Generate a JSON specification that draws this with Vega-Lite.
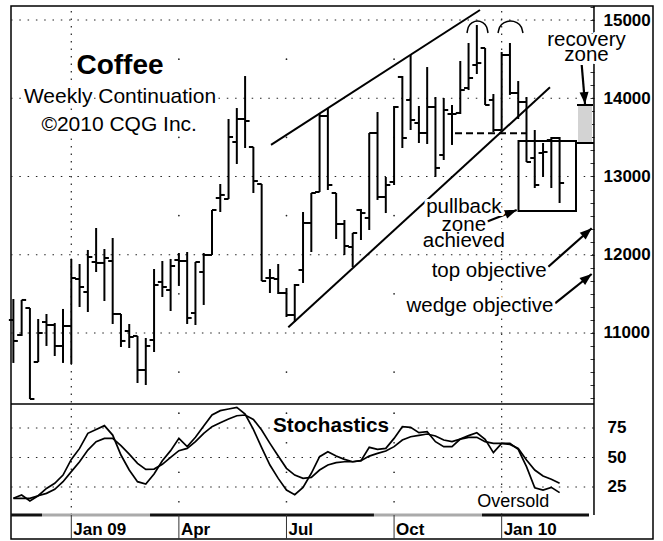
{
"$schema": "https://vega.github.io/schema/vega-lite/v6.json",
"width": 642, "height": 533,
"autosize": {"type": "none"},
"padding": {"left": 11, "top": 6, "right": 10, "bottom": 2},
"background": "white",
"config": {"view": {"stroke": "black", "strokeWidth": 1.5}, "font": "Liberation Sans"},
"datasets": {
"bars": [
{"t":"2008-11-14","o":11166,"h":11434,"l":10617,"c":10898,"k":15.4,"dv":15.4},
{"t":"2008-11-21","o":10974,"h":11422,"l":10962,"c":11422,"k":18.2,"dv":15.4},
{"t":"2008-11-28","o":11319,"h":11319,"l":10156,"c":10156,"k":13.1,"dv":15.4},
{"t":"2008-12-05","o":10629,"h":11179,"l":10629,"c":11000,"k":17.6,"dv":17.6},
{"t":"2008-12-12","o":11140,"h":11243,"l":10834,"c":11102,"k":23.8,"dv":19.6},
{"t":"2008-12-19","o":11102,"h":11128,"l":10706,"c":10834,"k":28.1,"dv":23.0},
{"t":"2008-12-26","o":10834,"h":11307,"l":10617,"c":11089,"k":35.1,"dv":29.5},
{"t":"2009-01-02","o":11089,"h":11946,"l":10604,"c":11703,"k":48.4,"dv":38.0},
{"t":"2009-01-09","o":11690,"h":11882,"l":11332,"c":11588,"k":57.7,"dv":46.4},
{"t":"2009-01-16","o":11524,"h":12061,"l":11268,"c":11971,"k":70.5,"dv":56.3},
{"t":"2009-01-23","o":11907,"h":12342,"l":11779,"c":11895,"k":73.8,"dv":63.4},
{"t":"2009-01-30","o":11895,"h":12073,"l":11409,"c":11958,"k":77.0,"dv":66.2},
{"t":"2009-02-06","o":11920,"h":12214,"l":11115,"c":11243,"k":69.0,"dv":66.2},
{"t":"2009-02-13","o":11243,"h":11243,"l":10821,"c":10898,"k":52.1,"dv":60.0},
{"t":"2009-02-20","o":11025,"h":11115,"l":10808,"c":10949,"k":39.4,"dv":52.9},
{"t":"2009-02-27","o":10962,"h":10962,"l":10361,"c":10527,"k":29.5,"dv":45.0},
{"t":"2009-03-06","o":10527,"h":10936,"l":10335,"c":10834,"k":27.5,"dv":39.9},
{"t":"2009-03-13","o":10910,"h":11818,"l":10757,"c":11613,"k":36.0,"dv":40.2},
{"t":"2009-03-20","o":11652,"h":11920,"l":11460,"c":11588,"k":47.3,"dv":44.2},
{"t":"2009-03-27","o":11549,"h":11946,"l":11281,"c":11856,"k":55.8,"dv":50.1},
{"t":"2009-04-03","o":11933,"h":12022,"l":11601,"c":11920,"k":66.2,"dv":55.8},
{"t":"2009-04-10","o":11920,"h":12035,"l":11115,"c":11192,"k":59.2,"dv":57.7},
{"t":"2009-04-17","o":11255,"h":11907,"l":11102,"c":11907,"k":67.1,"dv":63.4},
{"t":"2009-04-24","o":11779,"h":12022,"l":11358,"c":11997,"k":76.7,"dv":70.5},
{"t":"2009-05-01","o":11997,"h":12572,"l":11997,"c":12572,"k":86.0,"dv":76.1},
{"t":"2009-05-08","o":12725,"h":12904,"l":12546,"c":12764,"k":89.7,"dv":79.5},
{"t":"2009-05-15","o":12712,"h":13735,"l":12712,"c":13505,"k":91.1,"dv":82.6},
{"t":"2009-05-22","o":13441,"h":13875,"l":13160,"c":13735,"k":92.5,"dv":85.4},
{"t":"2009-05-29","o":13735,"h":14284,"l":13364,"c":13709,"k":86.8,"dv":86.0},
{"t":"2009-06-05","o":13377,"h":13377,"l":12789,"c":12942,"k":73.8,"dv":82.3},
{"t":"2009-06-12","o":12904,"h":12904,"l":11664,"c":11664,"k":58.3,"dv":73.3},
{"t":"2009-06-19","o":11703,"h":11818,"l":11511,"c":11703,"k":43.6,"dv":62.0},
{"t":"2009-06-26","o":11690,"h":11882,"l":11498,"c":11511,"k":32.3,"dv":51.2},
{"t":"2009-07-03","o":11511,"h":11575,"l":11204,"c":11230,"k":22.4,"dv":40.8},
{"t":"2009-07-10","o":11230,"h":11626,"l":11140,"c":11613,"k":18.5,"dv":35.1},
{"t":"2009-07-17","o":11805,"h":12546,"l":11639,"c":12406,"k":24.7,"dv":32.3},
{"t":"2009-07-24","o":12406,"h":12789,"l":12035,"c":12789,"k":36.6,"dv":33.2},
{"t":"2009-07-31","o":12802,"h":13812,"l":12802,"c":13773,"k":50.7,"dv":39.4},
{"t":"2009-08-07","o":13773,"h":13875,"l":12827,"c":12891,"k":54.9,"dv":43.6},
{"t":"2009-08-14","o":12789,"h":12789,"l":12201,"c":12393,"k":51.2,"dv":45.6},
{"t":"2009-08-21","o":12393,"h":12444,"l":11997,"c":12112,"k":48.4,"dv":46.4},
{"t":"2009-08-28","o":12099,"h":12278,"l":11843,"c":12278,"k":46.4,"dv":46.4},
{"t":"2009-09-04","o":12572,"h":12585,"l":12188,"c":12533,"k":47.3,"dv":47.3},
{"t":"2009-09-11","o":12470,"h":13556,"l":12316,"c":13556,"k":58.6,"dv":51.2},
{"t":"2009-09-18","o":13556,"h":13824,"l":12700,"c":12738,"k":56.9,"dv":53.5},
{"t":"2009-09-25","o":12738,"h":12994,"l":12533,"c":12891,"k":57.7,"dv":55.5},
{"t":"2009-10-02","o":12930,"h":13901,"l":12891,"c":13888,"k":66.2,"dv":59.2},
{"t":"2009-10-09","o":14272,"h":14284,"l":13364,"c":13492,"k":76.1,"dv":64.8},
{"t":"2009-10-16","o":13978,"h":14553,"l":13594,"c":13722,"k":75.5,"dv":67.6},
{"t":"2009-10-23","o":13684,"h":13901,"l":13428,"c":13556,"k":71.0,"dv":68.8},
{"t":"2009-10-30","o":13556,"h":14399,"l":13415,"c":13888,"k":71.9,"dv":69.9},
{"t":"2009-11-06","o":13888,"h":14016,"l":12994,"c":13109,"k":63.4,"dv":68.2},
{"t":"2009-11-13","o":13275,"h":14003,"l":13211,"c":13850,"k":59.2,"dv":64.8},
{"t":"2009-11-20","o":13799,"h":13914,"l":13403,"c":13799,"k":59.2,"dv":63.4},
{"t":"2009-11-27","o":13812,"h":14476,"l":13799,"c":14105,"k":65.6,"dv":65.6},
{"t":"2009-12-04","o":14131,"h":14706,"l":14105,"c":14259,"k":68.5,"dv":67.1},
{"t":"2009-12-11","o":14425,"h":14936,"l":14310,"c":14450,"k":71.0,"dv":67.1},
{"t":"2009-12-18","o":14642,"h":14642,"l":13914,"c":13914,"k":65.4,"dv":63.4},
{"t":"2009-12-25","o":13978,"h":14054,"l":13569,"c":13594,"k":54.1,"dv":62.0},
{"t":"2010-01-01","o":13594,"h":14591,"l":13594,"c":14553,"k":62.0,"dv":62.0},
{"t":"2010-01-08","o":14553,"h":14706,"l":14042,"c":14067,"k":62.0,"dv":61.1},
{"t":"2010-01-15","o":14067,"h":14220,"l":13735,"c":13952,"k":56.9,"dv":57.7},
{"t":"2010-01-22","o":13952,"h":14016,"l":13185,"c":13185,"k":42.2,"dv":47.8},
{"t":"2010-01-29","o":13236,"h":13594,"l":12853,"c":12891,"k":24.4,"dv":39.4},
{"t":"2010-02-05","o":13300,"h":13428,"l":12994,"c":13313,"k":22.4,"dv":34.3},
{"t":"2010-02-12","o":13466,"h":13505,"l":12853,"c":13492,"k":24.7,"dv":31.5},
{"t":"2010-02-19","o":13492,"h":13505,"l":12661,"c":12917,"k":20.2,"dv":28.1}
],
"quarters": [{"t":"2009-01-02","s":"Jan 09"},{"t":"2009-04-03","s":"Apr"},{"t":"2009-07-03","s":"Jul"},{"t":"2009-10-02","s":"Oct"},{"t":"2010-01-01","s":"Jan 10"}],
"jans": [{"t":"2009-01-02"},{"t":"2010-01-01"}],
"plevels": [{"v":11000},{"v":12000},{"v":13000},{"v":14000},{"v":15000}],
"slevels": [{"v":25},{"v":50},{"v":75}],
"pdots": [
{"t":"2009-04-03","v":10500},{"t":"2009-04-03","v":11500},{"t":"2009-04-03","v":12500},{"t":"2009-04-03","v":13500},{"t":"2009-04-03","v":14500},
{"t":"2009-07-03","v":10500},{"t":"2009-07-03","v":11500},{"t":"2009-07-03","v":12500},{"t":"2009-07-03","v":13500},{"t":"2009-07-03","v":14500},
{"t":"2009-10-02","v":10500},{"t":"2009-10-02","v":11500},{"t":"2009-10-02","v":12500},{"t":"2009-10-02","v":13500},{"t":"2009-10-02","v":14500}
],
"sdots": [
{"t":"2009-04-03","v":12.5},{"t":"2009-04-03","v":37.5},{"t":"2009-04-03","v":62.5},{"t":"2009-04-03","v":87.5},
{"t":"2009-07-03","v":12.5},{"t":"2009-07-03","v":37.5},{"t":"2009-07-03","v":62.5},{"t":"2009-07-03","v":87.5},
{"t":"2009-10-02","v":12.5},{"t":"2009-10-02","v":37.5},{"t":"2009-10-02","v":62.5},{"t":"2009-10-02","v":87.5}
],
"roll": [
{"s":"2008-11-12","e":"2008-12-08T05:00:00Z","k":"dark"},
{"s":"2008-12-08T05:00:00Z","e":"2009-03-09T14:00:00Z","k":"light"},
{"s":"2009-03-09T14:00:00Z","e":"2009-09-15T00:00:00Z","k":"dark"},
{"s":"2009-09-15T00:00:00Z","e":"2009-12-15T09:00:00Z","k":"light"},
{"s":"2009-12-15T09:00:00Z","e":"2010-03-15T21:00:00Z","k":"dark"}
],
"segs": [
{"x1":"2009-06-19T22:00:00Z","y1":13403,"x2":"2009-12-13T16:00:00Z","y2":15128},
{"x1":"2009-07-04T13:00:00Z","y1":11073,"x2":"2010-02-10T21:00:00Z","y2":14140},
{"x1":"2010-03-05T17:00:00Z","y1":13914,"x2":"2010-03-19T06:00:00Z","y2":13914},
{"x1":"2010-03-05T17:00:00Z","y1":13428,"x2":"2010-03-20T02:00:00Z","y2":13428}
],
"dash": [{"x1":"2009-11-22T13:00:00Z","x2":"2010-01-22T10:00:00Z","y":13552}],
"box": [{"x1":"2010-01-15T06:00:00Z","x2":"2010-03-04T21:00:00Z","y1":13454,"y2":12559}],
"rzone": [{"x1":"2010-03-06T14:00:00Z","x2":"2010-03-18T10:00:00Z","y1":13914,"y2":13428}],
"arcs": [
{"a":1,"t":"2009-12-02T16:30:00Z","p":14834},
{"a":1,"t":"2009-12-03T21:00:00Z","p":14910},
{"a":1,"t":"2009-12-07T04:00:00Z","p":14967},
{"a":1,"t":"2009-12-11T13:40:00Z","p":14987},
{"a":1,"t":"2009-12-16T01:00:00Z","p":14967},
{"a":1,"t":"2009-12-19T06:30:00Z","p":14910},
{"a":1,"t":"2009-12-20T11:00:00Z","p":14834},
{"a":2,"t":"2009-12-28T22:00:00Z","p":14834},
{"a":2,"t":"2009-12-30T08:00:00Z","p":14910},
{"a":2,"t":"2010-01-03T06:00:00Z","p":14967},
{"a":2,"t":"2010-01-08T12:00:00Z","p":14987},
{"a":2,"t":"2010-01-13T19:30:00Z","p":14967},
{"a":2,"t":"2010-01-17T15:00:00Z","p":14910},
{"a":2,"t":"2010-01-19T01:00:00Z","p":14834}
],
"arrows": [
{"n":"rec","x1":"2010-03-09T17:00:00Z","y1":14425,"x2":"2010-03-12T12:00:00Z","y2":13926},
{"n":"pull","x1":"2009-12-19T08:00:00Z","y1":12422,"x2":"2010-01-13T17:30:00Z","y2":12572},
{"n":"top","x1":"2010-02-09T11:00:00Z","y1":11847,"x2":"2010-03-18T04:00:00Z","y2":12338},
{"n":"wedge","x1":"2010-02-15T03:00:00Z","y1":11379,"x2":"2010-03-18T04:00:00Z","y2":11754}
],
"title": [{"s":"Coffee","t":"2009-02-12T05:00:00Z","p":14310}],
"sub": [
{"s":"Weekly Continuation","t":"2009-02-12T05:00:00Z","p":13935},
{"s":"©2010 CQG Inc.","t":"2009-02-11T12:00:00Z","p":13581}
],
"notes": [
{"s":"recovery","t":"2010-03-13T18:00:00Z","p":14674},
{"s":"zone","t":"2010-03-13T18:00:00Z","p":14476},
{"s":"pullback","t":"2009-11-30T00:00:00Z","p":12534},
{"s":"zone","t":"2009-11-30T00:00:00Z","p":12303},
{"s":"achieved","t":"2009-11-30T00:00:00Z","p":12099},
{"s":"top objective","t":"2009-12-21T11:00:00Z","p":11719},
{"s":"wedge objective","t":"2009-12-13T16:00:00Z","p":11272}
],
"stext": [{"s":"Stochastics","t":"2009-08-09T16:00:00Z","v":71.9}],
"otext": [{"s":"Oversold","t":"2010-01-10T20:00:00Z","v":7.8}]
},
"layer": [
{"data":{"name":"jans"},"mark":{"type":"rule","color":"#222","strokeWidth":1.2,"strokeDash":[1.5,6]},
 "encoding":{"x":{"field":"t","type":"temporal","axis":null,"scale":{"domain":[{"year":2008,"month":11,"date":12,"utc":true},{"year":2010,"month":5,"date":9,"utc":true}]}},
 "y":{"datum":8673.9,"type":"quantitative","axis":null,"scale":{"domain":[8367,15179],"nice":false,"zero":false}},"y2":{"datum":15179}}},
{"data":{"name":"plevels"},"mark":{"type":"rule","color":"#222","strokeWidth":1.2,"strokeDash":[1.5,6.8]},
 "encoding":{"x":{"datum":{"year":2008,"month":11,"date":12,"utc":true},"type":"temporal","axis":null},"x2":{"datum":{"year":2010,"month":3,"date":20,"hours":2,"utc":true}},
 "y":{"field":"v","type":"quantitative","axis":null,"scale":{"domain":[8367,15179],"nice":false,"zero":false}}}},
{"data":{"name":"pdots"},"mark":{"type":"point","filled":true,"size":3,"color":"#222","opacity":1},
 "encoding":{"x":{"field":"t","type":"temporal","axis":null},"y":{"field":"v","type":"quantitative","axis":null,"scale":{"domain":[8367,15179],"nice":false,"zero":false}}}},
{"data":{"name":"slevels"},"mark":{"type":"rule","color":"#222","strokeWidth":1.2,"strokeDash":[1.5,6.8]},
 "encoding":{"x":{"datum":{"year":2008,"month":11,"date":12,"utc":true},"type":"temporal","axis":null},"x2":{"datum":{"year":2010,"month":3,"date":20,"hours":2,"utc":true}},
 "y":{"field":"v","type":"quantitative","axis":null,"scale":{"domain":[-19.07,432.6],"nice":false,"zero":false}}}},
{"data":{"name":"sdots"},"mark":{"type":"point","filled":true,"size":3,"color":"#222","opacity":1},
 "encoding":{"x":{"field":"t","type":"temporal","axis":null},"y":{"field":"v","type":"quantitative","axis":null,"scale":{"domain":[-19.07,432.6],"nice":false,"zero":false}}}},
{"data":{"values":[{}]},"mark":{"type":"rule","color":"black","strokeWidth":1.5},
 "encoding":{"x":{"datum":{"year":2008,"month":11,"date":12,"utc":true},"type":"temporal","axis":null},"x2":{"datum":{"year":2010,"month":3,"date":20,"hours":2,"utc":true}},
 "y":{"datum":10092.5,"type":"quantitative","axis":null,"scale":{"domain":[8367,15179],"nice":false,"zero":false}}}},
{"data":{"values":[{}]},"mark":{"type":"rule","color":"black","strokeWidth":1.5},
 "encoding":{"x":{"datum":{"year":2010,"month":3,"date":20,"hours":2,"utc":true},"type":"temporal","axis":null},
 "y":{"datum":8673.9,"type":"quantitative","axis":null,"scale":{"domain":[8367,15179],"nice":false,"zero":false},
   "axis":null},"y2":{"datum":15179}}},
{"data":{"values":[{}]},"mark":{"type":"rule","opacity":0},
 "encoding":{"x":{"datum":{"year":2010,"month":3,"date":20,"hours":2,"utc":true},"type":"temporal","axis":null},
 "y":{"datum":15000,"type":"quantitative","scale":{"domain":[8367,15179],"nice":false,"zero":false},
   "axis":{"orient":"right","offset":-63,"title":null,"labels":false,"domain":false,"grid":false,"ticks":true,"tickSize":4,"tickColor":"#333","tickWidth":1,
    "values":[10167,10333,10500,10667,10833,11000,11167,11333,11500,11667,11833,12000,12167,12333,12500,12667,12833,13000,13167,13333,13500,13667,13833,14000,14167,14333,14500,14667,14833,15000,15167]}}}},
{"data":{"name":"roll"},"mark":{"type":"rule","strokeWidth":3},
 "encoding":{"x":{"field":"s","type":"temporal","axis":null},"x2":{"field":"e"},
 "y":{"datum":8673.9,"type":"quantitative","axis":null,"scale":{"domain":[8367,15179],"nice":false,"zero":false}},
 "color":{"field":"k","type":"nominal","scale":{"domain":["dark","light"],"range":["#111111","#aaaaaa"]},"legend":null}}},
{"data":{"name":"quarters"},"mark":{"type":"rule","color":"#333","strokeWidth":1},
 "encoding":{"x":{"field":"t","type":"temporal","axis":null},
 "y":{"datum":-19.07,"type":"quantitative","axis":null,"scale":{"domain":[-19.07,432.6],"nice":false,"zero":false}},"y2":{"datum":1.27}}},
{"data":{"name":"quarters"},"mark":{"type":"text","fontSize":17,"fontWeight":"bold","align":"left","baseline":"alphabetic","dx":2,"fill":"black"},
 "encoding":{"x":{"field":"t","type":"temporal","axis":null},
 "y":{"datum":-15.26,"type":"quantitative","axis":null,"scale":{"domain":[-19.07,432.6],"nice":false,"zero":false}},"text":{"field":"s"}}},
{"data":{"name":"bars"},"mark":{"type":"rule","color":"black","strokeWidth":2},
 "encoding":{"x":{"field":"t","type":"temporal","axis":null},
 "y":{"field":"l","type":"quantitative","scale":{"domain":[8367,15179],"nice":false,"zero":false},
   "axis":{"orient":"right","offset":-59,"title":null,"values":[11000,12000,13000,14000,15000],"format":"d","domain":false,"ticks":false,"grid":false,
    "labelFontSize":17,"labelFontWeight":"bold","labelColor":"black","labelPadding":9,"labelAlign":"left","labelBaseline":"middle"}},
 "y2":{"field":"h"}}},
{"data":{"name":"bars"},"mark":{"type":"rule","color":"black","strokeWidth":2,"xOffset":-4.5,"x2Offset":0},
 "encoding":{"x":{"field":"t","type":"temporal","axis":null},"x2":{"field":"t"},"y":{"field":"o","type":"quantitative","axis":null,"scale":{"domain":[8367,15179],"nice":false,"zero":false}}}},
{"data":{"name":"bars"},"mark":{"type":"rule","color":"black","strokeWidth":2,"xOffset":0,"x2Offset":4.5},
 "encoding":{"x":{"field":"t","type":"temporal","axis":null},"x2":{"field":"t"},"y":{"field":"c","type":"quantitative","axis":null,"scale":{"domain":[8367,15179],"nice":false,"zero":false}}}},
{"data":{"name":"rzone"},"mark":{"type":"rect","fill":"#d3d3d3"},
 "encoding":{"x":{"field":"x1","type":"temporal","axis":null},"x2":{"field":"x2"},"y":{"field":"y1","type":"quantitative","axis":null,"scale":{"domain":[8367,15179],"nice":false,"zero":false}},"y2":{"field":"y2"}}},
{"data":{"name":"segs"},"mark":{"type":"rule","color":"black","strokeWidth":2},
 "encoding":{"x":{"field":"x1","type":"temporal","axis":null},"x2":{"field":"x2"},"y":{"field":"y1","type":"quantitative","axis":null,"scale":{"domain":[8367,15179],"nice":false,"zero":false}},"y2":{"field":"y2"}}},
{"data":{"name":"dash"},"mark":{"type":"rule","color":"black","strokeWidth":2,"strokeDash":[7,4]},
 "encoding":{"x":{"field":"x1","type":"temporal","axis":null},"x2":{"field":"x2"},"y":{"field":"y","type":"quantitative","axis":null,"scale":{"domain":[8367,15179],"nice":false,"zero":false}}}},
{"data":{"name":"box"},"mark":{"type":"rect","fill":"white","fillOpacity":0,"stroke":"black","strokeWidth":2},
 "encoding":{"x":{"field":"x1","type":"temporal","axis":null},"x2":{"field":"x2"},"y":{"field":"y1","type":"quantitative","axis":null,"scale":{"domain":[8367,15179],"nice":false,"zero":false}},"y2":{"field":"y2"}}},
{"data":{"name":"arcs"},"mark":{"type":"line","color":"black","strokeWidth":1.5,"interpolate":"monotone"},
 "encoding":{"x":{"field":"t","type":"temporal","axis":null},"y":{"field":"p","type":"quantitative","axis":null,"scale":{"domain":[8367,15179],"nice":false,"zero":false}},"detail":{"field":"a","type":"nominal"}}},
{"data":{"name":"arrows"},"mark":{"type":"rule","color":"black","strokeWidth":2.2},
 "encoding":{"x":{"field":"x1","type":"temporal","axis":null},"x2":{"field":"x2"},"y":{"field":"y1","type":"quantitative","axis":null,"scale":{"domain":[8367,15179],"nice":false,"zero":false}},"y2":{"field":"y2"}}},
{"data":{"name":"arrows"},"transform":[{"filter":"datum.n === 'rec'"}],
 "mark":{"type":"point","shape":"M0,0L-0.75,2L0.75,2Z","size":144,"angle":175.5,"filled":true,"color":"black","opacity":1},
 "encoding":{"x":{"field":"x2","type":"temporal","axis":null},"y":{"field":"y2","type":"quantitative","axis":null,"scale":{"domain":[8367,15179],"nice":false,"zero":false}}}},
{"data":{"name":"arrows"},"transform":[{"filter":"datum.n === 'pull'"}],
 "mark":{"type":"point","shape":"M0,0L-0.75,2L0.75,2Z","size":144,"angle":68.7,"filled":true,"color":"black","opacity":1},
 "encoding":{"x":{"field":"x2","type":"temporal","axis":null},"y":{"field":"y2","type":"quantitative","axis":null,"scale":{"domain":[8367,15179],"nice":false,"zero":false}}}},
{"data":{"name":"arrows"},"transform":[{"filter":"datum.n === 'top'"}],
 "mark":{"type":"point","shape":"M0,0L-0.75,2L0.75,2Z","size":144,"angle":48.5,"filled":true,"color":"black","opacity":1},
 "encoding":{"x":{"field":"x2","type":"temporal","axis":null},"y":{"field":"y2","type":"quantitative","axis":null,"scale":{"domain":[8367,15179],"nice":false,"zero":false}}}},
{"data":{"name":"arrows"},"transform":[{"filter":"datum.n === 'wedge'"}],
 "mark":{"type":"point","shape":"M0,0L-0.75,2L0.75,2Z","size":144,"angle":51.4,"filled":true,"color":"black","opacity":1},
 "encoding":{"x":{"field":"x2","type":"temporal","axis":null},"y":{"field":"y2","type":"quantitative","axis":null,"scale":{"domain":[8367,15179],"nice":false,"zero":false}}}},
{"data":{"name":"bars"},"mark":{"type":"line","color":"black","strokeWidth":1.7},
 "encoding":{"x":{"field":"t","type":"temporal","axis":null},
 "y":{"field":"k","type":"quantitative","scale":{"domain":[-19.07,432.6],"nice":false,"zero":false},
   "axis":{"orient":"right","offset":-59,"title":null,"values":[25,50,75],"domain":false,"ticks":false,"grid":false,
    "labelFontSize":17,"labelFontWeight":"bold","labelColor":"black","labelPadding":13,"labelAlign":"left","labelBaseline":"middle"}}}},
{"data":{"name":"bars"},"mark":{"type":"line","color":"black","strokeWidth":1.7},
 "encoding":{"x":{"field":"t","type":"temporal","axis":null},"y":{"field":"dv","type":"quantitative","axis":null,"scale":{"domain":[-19.07,432.6],"nice":false,"zero":false}}}},
{"data":{"name":"title"},"mark":{"type":"text","fontSize":28,"fontWeight":"bold","align":"center","baseline":"alphabetic","fill":"white","stroke":"white","strokeWidth":5,"strokeJoin":"round"},
 "encoding":{"x":{"field":"t","type":"temporal","axis":null},"y":{"field":"p","type":"quantitative","axis":null,"scale":{"domain":[8367,15179],"nice":false,"zero":false}},"text":{"field":"s"}}},
{"data":{"name":"title"},"mark":{"type":"text","fontSize":28,"fontWeight":"bold","align":"center","baseline":"alphabetic","fill":"black"},
 "encoding":{"x":{"field":"t","type":"temporal","axis":null},"y":{"field":"p","type":"quantitative","axis":null,"scale":{"domain":[8367,15179],"nice":false,"zero":false}},"text":{"field":"s"}}},
{"data":{"name":"sub"},"mark":{"type":"text","fontSize":21,"align":"center","baseline":"alphabetic","fill":"white","stroke":"white","strokeWidth":5,"strokeJoin":"round"},
 "encoding":{"x":{"field":"t","type":"temporal","axis":null},"y":{"field":"p","type":"quantitative","axis":null,"scale":{"domain":[8367,15179],"nice":false,"zero":false}},"text":{"field":"s"}}},
{"data":{"name":"sub"},"mark":{"type":"text","fontSize":21,"align":"center","baseline":"alphabetic","fill":"black"},
 "encoding":{"x":{"field":"t","type":"temporal","axis":null},"y":{"field":"p","type":"quantitative","axis":null,"scale":{"domain":[8367,15179],"nice":false,"zero":false}},"text":{"field":"s"}}},
{"data":{"name":"notes"},"mark":{"type":"text","fontSize":20.5,"align":"center","baseline":"alphabetic","fill":"white","stroke":"white","strokeWidth":6,"strokeJoin":"round"},
 "encoding":{"x":{"field":"t","type":"temporal","axis":null},"y":{"field":"p","type":"quantitative","axis":null,"scale":{"domain":[8367,15179],"nice":false,"zero":false}},"text":{"field":"s"}}},
{"data":{"name":"notes"},"mark":{"type":"text","fontSize":20.5,"align":"center","baseline":"alphabetic","fill":"black"},
 "encoding":{"x":{"field":"t","type":"temporal","axis":null},"y":{"field":"p","type":"quantitative","axis":null,"scale":{"domain":[8367,15179],"nice":false,"zero":false}},"text":{"field":"s"}}},
{"data":{"name":"stext"},"mark":{"type":"text","fontSize":20.7,"fontWeight":"bold","align":"center","baseline":"alphabetic","fill":"white","stroke":"white","strokeWidth":6,"strokeJoin":"round"},
 "encoding":{"x":{"field":"t","type":"temporal","axis":null},"y":{"field":"v","type":"quantitative","axis":null,"scale":{"domain":[-19.07,432.6],"nice":false,"zero":false}},"text":{"field":"s"}}},
{"data":{"name":"stext"},"mark":{"type":"text","fontSize":20.7,"fontWeight":"bold","align":"center","baseline":"alphabetic","fill":"black"},
 "encoding":{"x":{"field":"t","type":"temporal","axis":null},"y":{"field":"v","type":"quantitative","axis":null,"scale":{"domain":[-19.07,432.6],"nice":false,"zero":false}},"text":{"field":"s"}}},
{"data":{"name":"otext"},"mark":{"type":"text","fontSize":18,"align":"center","baseline":"alphabetic","fill":"white","stroke":"white","strokeWidth":5,"strokeJoin":"round"},
 "encoding":{"x":{"field":"t","type":"temporal","axis":null},"y":{"field":"v","type":"quantitative","axis":null,"scale":{"domain":[-19.07,432.6],"nice":false,"zero":false}},"text":{"field":"s"}}},
{"data":{"name":"otext"},"mark":{"type":"text","fontSize":18,"align":"center","baseline":"alphabetic","fill":"black"},
 "encoding":{"x":{"field":"t","type":"temporal","axis":null},"y":{"field":"v","type":"quantitative","axis":null,"scale":{"domain":[-19.07,432.6],"nice":false,"zero":false}},"text":{"field":"s"}}}
],
"resolve": {"scale": {"y": "independent"}, "axis": {"y": "independent"}}
}
